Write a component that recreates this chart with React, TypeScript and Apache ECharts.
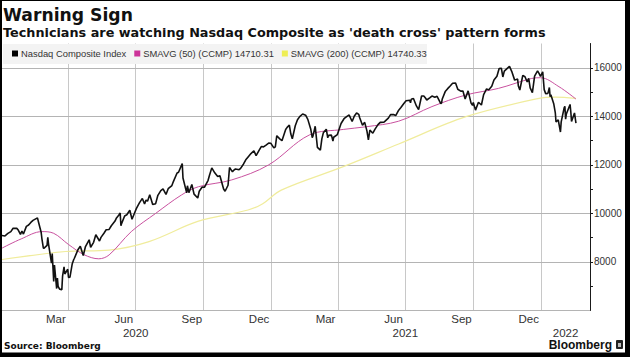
import React, { useEffect, useRef } from 'react';
import * as echarts from 'echarts';

// ---- Nasdaq Composite closes ----
const nasdaqDates = [
  '2020-01-02','2020-01-06','2020-01-08','2020-01-10','2020-01-14','2020-01-17','2020-01-22','2020-01-24','2020-01-27','2020-01-29','2020-01-31',
  '2020-02-04','2020-02-07','2020-02-10','2020-02-13','2020-02-19','2020-02-21','2020-02-24','2020-02-25','2020-02-27','2020-02-28',
  '2020-03-03','2020-03-04','2020-03-05','2020-03-09','2020-03-10','2020-03-12','2020-03-13','2020-03-16','2020-03-17','2020-03-18','2020-03-20','2020-03-23','2020-03-24','2020-03-26','2020-03-27','2020-03-31',
  '2020-04-01','2020-04-03','2020-04-06','2020-04-08','2020-04-09','2020-04-14','2020-04-17','2020-04-21','2020-04-24','2020-04-29',
  '2020-05-01','2020-05-05','2020-05-08','2020-05-13','2020-05-15','2020-05-19','2020-05-22','2020-05-26','2020-05-29',
  '2020-06-03','2020-06-05','2020-06-08','2020-06-10','2020-06-11','2020-06-12','2020-06-16','2020-06-19','2020-06-23','2020-06-26','2020-06-30',
  '2020-07-02','2020-07-06','2020-07-10','2020-07-13','2020-07-15','2020-07-17','2020-07-20','2020-07-24','2020-07-28','2020-07-31',
  '2020-08-04','2020-08-07','2020-08-11','2020-08-14','2020-08-19','2020-08-21','2020-08-26','2020-08-28',
  '2020-09-02','2020-09-03','2020-09-08','2020-09-09','2020-09-11','2020-09-15','2020-09-18','2020-09-23','2020-09-25','2020-09-29',
  '2020-10-02','2020-10-07','2020-10-09','2020-10-12','2020-10-16','2020-10-20','2020-10-23','2020-10-28','2020-10-30',
  '2020-11-03','2020-11-05','2020-11-09','2020-11-11','2020-11-13','2020-11-18','2020-11-20','2020-11-24','2020-11-27',
  '2020-12-01','2020-12-04','2020-12-08','2020-12-11','2020-12-15','2020-12-18','2020-12-21','2020-12-24','2020-12-28','2020-12-31',
  '2021-01-04','2021-01-06','2021-01-08','2021-01-12','2021-01-15','2021-01-20','2021-01-22','2021-01-25','2021-01-27','2021-01-29',
  '2021-02-02','2021-02-05','2021-02-08','2021-02-12','2021-02-16','2021-02-19','2021-02-23','2021-02-25','2021-02-26',
  '2021-03-01','2021-03-04','2021-03-08','2021-03-10','2021-03-12','2021-03-16','2021-03-18','2021-03-19','2021-03-23','2021-03-25','2021-03-26','2021-03-31',
  '2021-04-05','2021-04-09','2021-04-13','2021-04-16','2021-04-20','2021-04-23','2021-04-26','2021-04-29','2021-04-30',
  '2021-05-04','2021-05-07','2021-05-10','2021-05-12','2021-05-14','2021-05-18','2021-05-21','2021-05-25','2021-05-28',
  '2021-06-02','2021-06-04','2021-06-08','2021-06-11','2021-06-15','2021-06-18','2021-06-22','2021-06-25','2021-06-29',
  '2021-07-02','2021-07-07','2021-07-08','2021-07-09','2021-07-12','2021-07-16','2021-07-19','2021-07-23','2021-07-26','2021-07-28','2021-07-30',
  '2021-08-03','2021-08-06','2021-08-10','2021-08-13','2021-08-18','2021-08-19','2021-08-20','2021-08-24','2021-08-27','2021-08-31',
  '2021-09-03','2021-09-07','2021-09-10','2021-09-14','2021-09-17','2021-09-20','2021-09-24','2021-09-28','2021-09-30',
  '2021-10-01','2021-10-04','2021-10-08','2021-10-12','2021-10-15','2021-10-19','2021-10-22','2021-10-26','2021-10-29',
  '2021-11-02','2021-11-05','2021-11-08','2021-11-10','2021-11-12','2021-11-16','2021-11-19','2021-11-22','2021-11-26','2021-11-30',
  '2021-12-01','2021-12-03','2021-12-07','2021-12-10','2021-12-13','2021-12-15','2021-12-17','2021-12-20','2021-12-23','2021-12-27','2021-12-29','2021-12-31',
  '2022-01-03','2022-01-05','2022-01-07','2022-01-10','2022-01-12','2022-01-13','2022-01-14','2022-01-18','2022-01-20','2022-01-21','2022-01-24','2022-01-27','2022-01-28',
  '2022-02-01','2022-02-02','2022-02-03','2022-02-04','2022-02-09','2022-02-10','2022-02-11','2022-02-15','2022-02-17'
];
const nasdaqValues = [
  9092,9071,9129,9178,9251,9388,9383,9314,9139,9275,9150,
  9467,9520,9628,9711,9817,9576,9221,8966,8566,8567,
  8684,9018,8738,7950,8344,7201,7875,6904,7335,6989,6880,6860,7418,7797,7502,7700,
  7360,7373,7913,8090,8153,8516,8650,8263,8634,8914,
  8605,8810,9121,8863,9014,9185,9325,9340,9490,
  9683,9814,9924,10020,9492,9589,9895,9946,10131,9757,10058,
  10208,10433,10617,10390,10550,10503,10767,10363,10402,10745,
  10941,11011,10782,11019,11146,11312,11665,11696,
  12056,11458,10847,11141,10854,11190,10793,10633,10914,11085,
  11075,11364,11580,11876,11672,11516,11548,11004,10912,
  11161,11891,11713,11786,11829,11801,11855,12036,12206,
  12355,12464,12582,12378,12595,12755,12742,12805,12899,12888,
  12698,12741,13202,13072,12998,13457,13543,13635,13271,13070,
  13612,13856,13987,14095,14047,13874,13465,13119,13192,
  13589,12723,12609,13069,13319,13471,13116,13215,13227,12978,13138,13247,
  13705,13900,13997,14052,13786,14016,14138,14082,13962,
  13633,13752,13402,13031,13430,13303,13471,13657,13749,
  13756,13814,13925,14069,14072,14030,14253,14360,14528,
  14639,14665,14560,14701,14733,14427,14275,14837,14840,14763,14673,
  14761,14835,14788,14823,14525,14542,14715,15019,15129,15259,
  15363,15374,15115,15037,15044,14713,15048,14546,14448,
  14567,14255,14580,14465,14897,15129,15090,15236,15498,
  15650,15971,15982,15622,15860,15974,16057,15854,15491,15538,
  15254,15085,15686,15630,15413,15566,15169,14980,15653,15871,15766,15645,
  15833,15100,14936,14943,15188,14807,14893,14506,14155,13768,13856,13352,13770,
  14346,14417,13879,14098,14490,14186,13791,14139,13716
];

// ---- 50-day simple moving average ----
const sma50Dates = [
  '2020-01-02','2020-01-28','2020-02-25','2020-03-12','2020-04-01','2020-04-22','2020-05-12','2020-05-26',
  '2020-06-25','2020-07-28','2020-09-01','2020-09-24','2020-11-08','2020-12-28',
  '2021-02-21','2021-04-08','2021-05-09','2021-06-22','2021-08-06','2021-09-21','2021-11-04','2021-12-19','2021-12-31',
  '2022-01-25','2022-02-17'
];
const sma50Values = [
  8570,8950,9250,9180,8720,8300,8130,8290,
  9250,10000,10760,11100,11380,12000,
  13230,13460,13570,13800,14400,14880,15150,15560,15590,
  15220,14710
];

// ---- 200-day simple moving average ----
const sma200Dates = [
  '2020-01-02','2020-03-28','2020-05-26','2020-07-19','2020-09-24','2020-11-30','2020-12-20',
  '2021-01-14','2021-04-08','2021-06-22','2021-09-21','2021-12-29','2022-01-20','2022-02-17'
];
const sma200Values = [
  8100,8430,8490,8840,9680,10140,10400,
  10960,11926,12860,13986,14741,14790,14740
];

// ---- axis texts / gridlines ----
const yTickLabels = [8000, 10000, 12000, 14000, 16000];
const yGridValues = [6000, 8000, 10000, 12000, 14000, 16000];
const monthLabels = ['Mar','Jun','Sep','Dec','Mar','Jun','Sep','Dec'];
const monthLabelDates = ['2020-03-15','2020-06-15','2020-09-15','2020-12-15','2021-03-15','2021-06-15','2021-09-15','2021-12-15'];
const yearLabels = ['2020','2021','2022'];
const yearLabelDates = ['2020-07-01','2021-07-01','2022-02-03'];
const gridLineDates = ['2020-04-01','2020-07-01','2020-10-01','2021-01-01','2021-04-01','2021-07-01','2021-10-01','2022-01-01'];

const nameMain = 'Nasdaq Composite Index';
const name50 = 'SMAVG (50) (CCMP) 14710.31';
const name200 = 'SMAVG (200) (CCMP) 14740.33';

const ts = (s: string) => {
  const [y, m, d] = s.split('-').map(Number);
  return new Date(y, m - 1, d).getTime();
};

export default function App() {
  const ref = useRef<HTMLDivElement>(null);

  useEffect(() => {
    document.body.style.margin = '0';
    if (!ref.current) return;
    const chart = echarts.init(ref.current, undefined, { renderer: 'svg' });

    const mainData = nasdaqDates.map((d, i) => [ts(d), nasdaqValues[i]]);
    const s50 = sma50Dates.map((d, i) => [ts(d), sma50Values[i]]);
    const s200 = sma200Dates.map((d, i) => [ts(d), sma200Values[i]]);

    const gridColor = '#c8c8c8';
    const hGridColor = '#b4b4b4';

    const option: any = {
      animation: false,
      backgroundColor: '#ffffff',
      grid: { left: 2, right: 40, top: 43.5, bottom: 46.5, containLabel: false },
      legend: {
        data: [nameMain, name50, name200],
        left: 12,
        top: 49,
        padding: 0,
        icon: 'rect',
        itemWidth: 6,
        itemHeight: 6,
        itemGap: 8,
        textStyle: { fontFamily: 'Liberation Sans', fontSize: 9.4, color: '#333', padding: [0, 0, 0, -2] },
        selectedMode: false,
        z: 6,
      },
      xAxis: {
        type: 'time',
        min: ts('2020-01-02'),
        max: ts('2022-03-08'),
        axisLine: { show: false },
        axisTick: { show: false },
        axisLabel: { show: false },
        splitLine: { show: false },
      },
      yAxis: {
        type: 'value',
        position: 'right',
        min: 6000,
        max: 17000,
        interval: 1000,
        axisLine: { show: true, lineStyle: { color: '#1a1a1a', width: 1 } },
        axisTick: { show: true, length: 3, lineStyle: { color: '#1a1a1a' } },
        axisLabel: {
          margin: 4,
          color: '#333',
          fontFamily: 'Liberation Sans',
          fontSize: 10,
          showMinLabel: false,
          showMaxLabel: false,
          formatter: (v: number) => (yTickLabels.indexOf(v) >= 0 ? String(v) : ''),
        },
        splitLine: { show: false },
        z: 5,
      },
      series: [
        {
          name: name200,
          type: 'line',
          data: s200,
          symbol: 'none',
          smooth: 0.35,
          lineStyle: { color: '#f0ec9c', width: 1.2 },
          itemStyle: { color: '#eeee55' },
          z: 2,
          markLine: {
            silent: true,
            z: 1,
            symbol: ['none', 'none'],
            label: { show: false },
            emphasis: { disabled: true },
            lineStyle: { color: gridColor, type: 'solid', width: 1 },
            data: [
              ...gridLineDates.map((d) => ({ xAxis: ts(d) })),
              ...yGridValues.map((v) => ({ yAxis: v, lineStyle: { color: hGridColor, width: 1, type: 'solid' } })),
            ],
          },
        },
        {
          name: name50,
          type: 'line',
          data: s50,
          symbol: 'none',
          smooth: 0.35,
          lineStyle: { color: '#c9519f', width: 1 },
          itemStyle: { color: '#cc3399' },
          z: 3,
        },
        {
          name: nameMain,
          type: 'line',
          data: mainData,
          symbol: 'none',
          lineStyle: { color: '#111111', width: 1.6 },
          itemStyle: { color: '#000000' },
          z: 4,
        },
      ],
    };
    chart.setOption(option);

    const px = (d: string) => chart.convertToPixel({ xAxisIndex: 0 }, ts(d)) as number;

    const texts: any[] = [];
    monthLabels.forEach((m, i) => {
      texts.push({
        type: 'text', x: px(monthLabelDates[i]), y: 319, z: 10,
        style: { text: m, fill: '#333', font: '11.5px "Liberation Sans"', align: 'center', verticalAlign: 'middle' },
      });
    });
    yearLabels.forEach((yl, i) => {
      texts.push({
        type: 'text', x: px(yearLabelDates[i]), y: 332.5, z: 10,
        style: { text: yl, fill: '#333', font: '11.5px "Liberation Sans"', align: 'center', verticalAlign: 'middle' },
      });
    });

    chart.setOption({
      graphic: [
        { type: 'rect', shape: { x: 3, y: 44, width: 424, height: 20 }, style: { fill: '#f3f3f3' }, z: 5, silent: true },
        {
          type: 'text', x: 3, y: 14.5, z: 10,
          style: { text: 'Warning Sign', fill: '#111', font: 'bold 17.2px "DejaVu Sans"', align: 'left', verticalAlign: 'middle' },
        },
        {
          type: 'text', x: 3, y: 32, z: 10,
          style: {
            text: "Technicians are watching Nasdaq Composite as 'death cross' pattern forms",
            fill: '#111', font: 'bold 12.8px "DejaVu Sans"', align: 'left', verticalAlign: 'middle',
          },
        },
        ...texts,
        {
          type: 'text', x: 4, y: 345.5, z: 10,
          style: { text: 'Source: Bloomberg', fill: '#111', font: 'bold 9px "DejaVu Sans"', align: 'left', verticalAlign: 'middle' },
        },
        {
          type: 'text', x: 612, y: 344.5, z: 10,
          style: { text: 'Bloomberg', fill: '#111', font: 'bold 12px "Liberation Sans"', align: 'right', verticalAlign: 'middle' },
        },
        { type: 'rect', shape: { x: 616, y: 340, width: 7, height: 9, r: 1 }, style: { fill: '#222' }, z: 10 },
        { type: 'rect', shape: { x: 618, y: 343, width: 3, height: 4 }, style: { fill: '#bbb' }, z: 11 },
        // frame
        { type: 'rect', shape: { x: 0, y: 0, width: 630, height: 1 }, style: { fill: '#000' }, z: 20 },
        { type: 'rect', shape: { x: 0, y: 0, width: 2, height: 357 }, style: { fill: '#000' }, z: 20 },
        { type: 'rect', shape: { x: 625, y: 0, width: 5, height: 357 }, style: { fill: '#000' }, z: 20 },
        { type: 'rect', shape: { x: 0, y: 352.5, width: 630, height: 5 }, style: { fill: '#000' }, z: 20 },
      ],
    });

    return () => chart.dispose();
  }, []);

  return <div ref={ref} style={{ width: 630, height: 357 }} />;
}
